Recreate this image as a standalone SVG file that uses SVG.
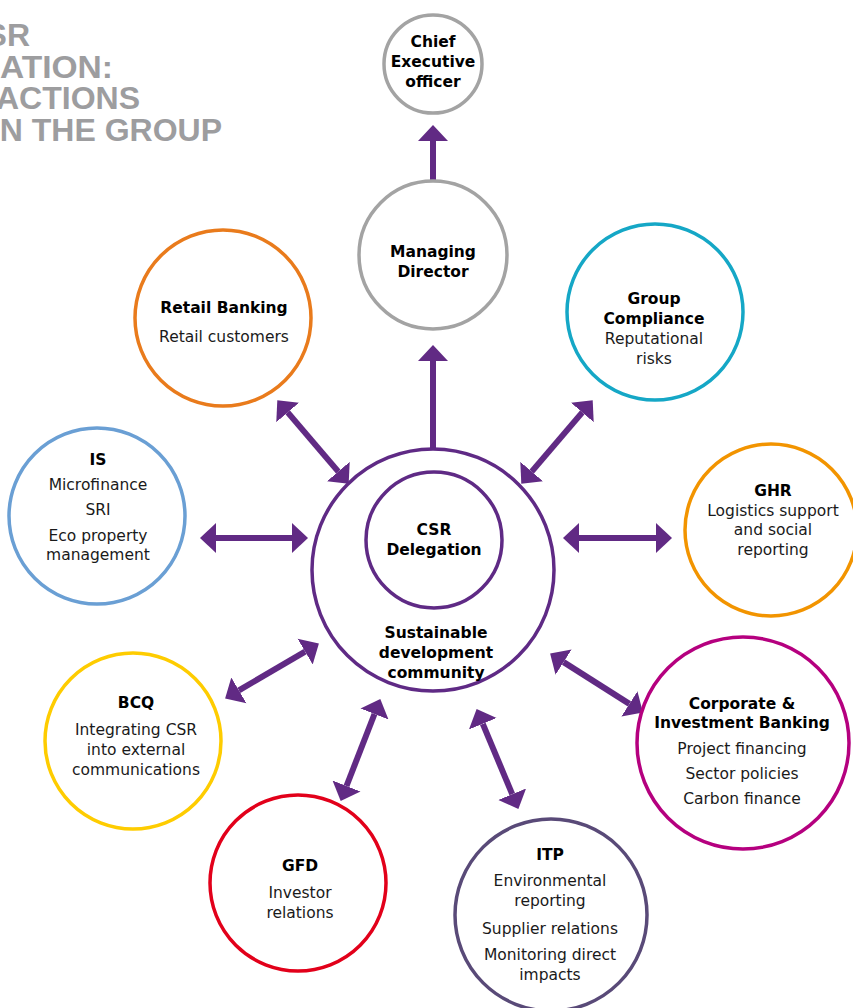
<svg xmlns="http://www.w3.org/2000/svg" width="853" height="1008" viewBox="0 0 853 1008">
<defs>
<style>
.title{font-family:"Liberation Sans",Arial,sans-serif;font-weight:bold;font-size:32px;fill:#9d9d9f;text-anchor:end}
.node{fill:#fff;stroke-width:3.5}
.b{font-family:"DejaVu Sans","Liberation Sans",sans-serif;font-weight:bold;font-size:15.5px;fill:#000;text-anchor:middle}
.r{font-family:"DejaVu Sans","Liberation Sans",sans-serif;font-size:15.5px;fill:#1a1a1a;text-anchor:middle}
.conn{stroke:#612a84;stroke-width:6;fill:none}
.one{marker-end:url(#ah)}
.two{marker-start:url(#ah);marker-end:url(#ah)}
</style>
<marker id="ah" markerUnits="userSpaceOnUse" markerWidth="18" markerHeight="32" viewBox="0 -16 18 32" refX="0" refY="0" orient="auto-start-reverse">
<path d="M0,-15 L16,0 L0,15 Z" fill="#612a84"/>
</marker>
</defs>
<rect width="853" height="1008" fill="#fff"/>
<g id="title">
<text class="title" x="30" y="46">SR</text>
<text class="title" x="113" y="78" textLength="113" lengthAdjust="spacingAndGlyphs">ATION:</text>
<text class="title" x="140" y="109">ACTIONS</text>
<text class="title" x="222" y="141">N THE GROUP</text>
</g>
<g id="connectors">
<path class="conn one" d="M433,180 L433,141"/>
<path class="conn one" d="M433,453 L433,361"/>
<path class="conn two" d="M287.7,412.4 L338.3,471.6"/>
<path class="conn two" d="M216,538 L292,538"/>
<path class="conn two" d="M582.3,412.4 L531.7,471.6"/>
<path class="conn two" d="M579,538 L656,538"/>
<path class="conn two" d="M238.9,690.4 L305.1,651.6"/>
<path class="conn two" d="M374.5,714 L346.5,786"/>
<path class="conn two" d="M482.8,723.8 L512.2,794.2"/>
<path class="conn two" d="M563.6,662.1 L629.4,703.9"/>
</g>
<g id="ceo">
<circle class="node" cx="433" cy="64" r="49" stroke="#a3a3a3"/>
<text class="b" x="433" y="47">Chief</text>
<text class="b" x="433" y="67">Executive</text>
<text class="b" x="433" y="87">officer</text>
</g>
<g id="md">
<circle class="node" cx="433" cy="255" r="74" stroke="#a3a3a3"/>
<text class="b" x="433" y="257">Managing</text>
<text class="b" x="433" y="277">Director</text>
</g>
<g id="retail">
<circle class="node" cx="223" cy="318" r="88" stroke="#e97b1c"/>
<text class="b" x="224" y="313">Retail Banking</text>
<text class="r" x="224" y="342">Retail customers</text>
</g>
<g id="compliance">
<circle class="node" cx="655" cy="312" r="88" stroke="#15a7c6"/>
<text class="b" x="654" y="304">Group</text>
<text class="b" x="654" y="324">Compliance</text>
<text class="r" x="654" y="344">Reputational</text>
<text class="r" x="654" y="364">risks</text>
</g>
<g id="is">
<circle class="node" cx="97" cy="516" r="88" stroke="#6a9fd4"/>
<text class="b" x="98" y="465">IS</text>
<text class="r" x="98" y="490">Microfinance</text>
<text class="r" x="98" y="515">SRI</text>
<text class="r" x="98" y="541">Eco property</text>
<text class="r" x="98" y="560">management</text>
</g>
<g id="ghr">
<circle class="node" cx="771" cy="530" r="86" stroke="#f29400"/>
<text class="b" x="773" y="496">GHR</text>
<text class="r" x="773" y="516">Logistics support</text>
<text class="r" x="773" y="535">and social</text>
<text class="r" x="773" y="555">reporting</text>
</g>
<g id="center">
<circle class="node" cx="433" cy="570" r="121" stroke="#5f2a85" stroke-width="3"/>
<circle class="node" cx="434" cy="540" r="68" stroke="#5f2a85" stroke-width="3"/>
<text class="b" x="434" y="535">CSR</text>
<text class="b" x="434" y="555">Delegation</text>
<text class="b" x="436" y="638">Sustainable</text>
<text class="b" x="436" y="658">development</text>
<text class="b" x="436" y="678">community</text>
</g>
<g id="bcq">
<circle class="node" cx="133" cy="741" r="88" stroke="#fecc00"/>
<text class="b" x="136" y="708">BCQ</text>
<text class="r" x="136" y="735">Integrating CSR</text>
<text class="r" x="136" y="755">into external</text>
<text class="r" x="136" y="775">communications</text>
</g>
<g id="gfd">
<circle class="node" cx="298" cy="883" r="88" stroke="#e2001a"/>
<text class="b" x="300" y="871">GFD</text>
<text class="r" x="300" y="898">Investor</text>
<text class="r" x="300" y="918">relations</text>
</g>
<g id="itp">
<circle class="node" cx="551" cy="915" r="96" stroke="#594a78"/>
<text class="b" x="550" y="860">ITP</text>
<text class="r" x="550" y="886">Environmental</text>
<text class="r" x="550" y="906">reporting</text>
<text class="r" x="550" y="934">Supplier relations</text>
<text class="r" x="550" y="960">Monitoring direct</text>
<text class="r" x="550" y="980">impacts</text>
</g>
<g id="cib">
<circle class="node" cx="743" cy="743" r="106" stroke="#b5007f"/>
<text class="b" x="742" y="709">Corporate &amp;</text>
<text class="b" x="742" y="728">Investment Banking</text>
<text class="r" x="742" y="754">Project financing</text>
<text class="r" x="742" y="779">Sector policies</text>
<text class="r" x="742" y="804">Carbon finance</text>
</g>
</svg>
